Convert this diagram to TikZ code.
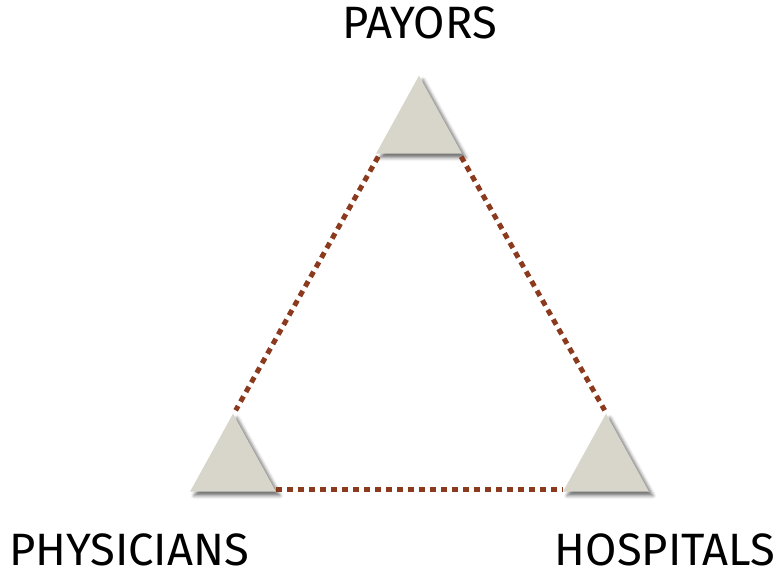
\documentclass[tikz,border=0pt]{standalone}
\usepackage{fontspec}
\setmainfont{Fira Sans}
\usepackage{xcolor}
\usepackage{tikz}
\usetikzlibrary{shapes.geometric,shadows.blur,positioning}
\definecolor{linkbrown}{RGB}{140,58,30}
\definecolor{stonegray}{RGB}{216,214,202}
\tikzstyle{party} = [isosceles triangle, isosceles triangle stretches,
    shape border rotate=90, fill=stonegray, inner sep=0pt,
    minimum width=64.5pt, minimum height=58.5pt,
    blur shadow={shadow xshift=3pt, shadow yshift=-3pt,
      shadow blur radius=2.5pt, shadow opacity=55}]
\tikzstyle{tag} = [font=\fontsize{34}{38}\selectfont, inner sep=0pt]
\tikzstyle{link} = [linkbrown, line width=3.75pt,
    dash pattern=on 4.5pt off 3.75pt]

\begin{document}
\begin{tikzpicture}[x=0.75pt, y=-0.75pt]
		\useasboundingbox (0,0) rectangle (783,573);
		\node[party, anchor=apex] (pay) at (419,75) {};
		\node[party, anchor=apex] (phy) at (233,413) {};
		\node[party, anchor=apex] (hos) at (606,413) {};
		\node[tag] (payL) at (420,23) {PAYORS};
		\node[tag] (phyL) at (129,550) {PHYSICIANS};
		\node[tag] (hosL) at (665,550) {HOSPITALS};
		
		\draw[link] ([xshift=2pt,yshift=-2pt]pay.left corner) -- ([xshift=2pt,yshift=2pt]phy.apex);
		\draw[link] ([xshift=-1pt,yshift=-2pt]pay.right corner) -- ([xshift=-1pt,yshift=2pt]hos.apex);
		\draw[link] ([yshift=1.5pt]phy.right corner) -- ([yshift=1.5pt]hos.left corner);
	\end{tikzpicture}
\end{document}
